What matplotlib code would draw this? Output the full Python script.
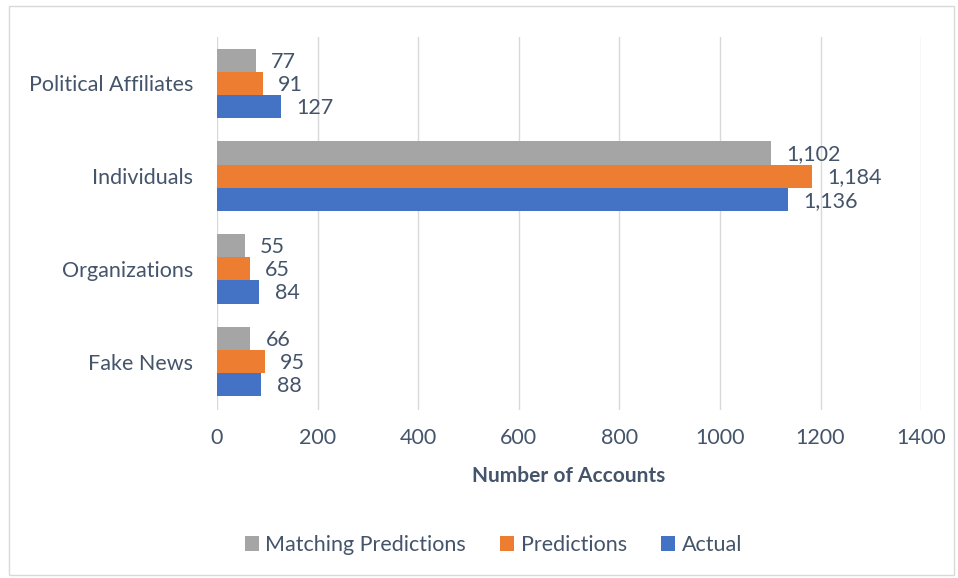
import numpy as np
import matplotlib
matplotlib.use("Agg")
import matplotlib.pyplot as plt
from matplotlib.patches import Rectangle

categories = ["Fake News", "Organizations", "Individuals", "Political Affiliates"]
actual = [88, 84, 1136, 127]
predictions = [95, 65, 1184, 91]
matching = [66, 55, 1102, 77]

TEXT = "#44546A"
plt.rcParams["font.family"] = ["Lato", "DejaVu Sans"]

fig = plt.figure(figsize=(9.58, 5.78), dpi=100)
ax = fig.add_axes([0.2265, 0.291, 0.735, 0.645])

y = np.arange(len(categories))
h = 0.25
series = [
    ("Actual", actual, "#4472C4", -h),
    ("Predictions", predictions, "#ED7D31", 0),
    ("Matching Predictions", matching, "#A5A5A5", h),
]
handles = {}
for name, vals, col, off in series:
    bars = ax.barh(y + off, vals, height=h, color=col, zorder=3, label=name)
    handles[name] = bars
    for b, v in zip(bars, vals):
        ax.annotate(f"{v:,}", (b.get_width(), b.get_y() + b.get_height() / 2),
                    xytext=(11, -1), textcoords="offset points", va="center",
                    ha="left", fontsize=15.5, color=TEXT)

ax.set_xlim(0, 1400)
ax.set_ylim(-0.52, 3.5)
ax.set_xticks(range(0, 1401, 200))
ax.set_yticks(y)
ax.set_yticklabels(categories)
ax.tick_params(axis="both", length=0, labelsize=15.5, labelcolor=TEXT)
ax.tick_params(axis="y", pad=17)
ax.tick_params(axis="x", pad=13)
ax.grid(axis="x", color="#D9D9D9", linewidth=1, zorder=0)
for s in ax.spines.values():
    s.set_visible(False)
ax.set_xlabel("Number of Accounts", fontsize=15, fontweight="bold", color=TEXT, labelpad=13)

order = ["Matching Predictions", "Predictions", "Actual"]
fig.legend([handles[n] for n in order], order, loc="center", bbox_to_anchor=(0.515, 0.057),
           ncol=3, frameon=False, fontsize=15.5, labelcolor=TEXT, handlelength=0.65,
           handleheight=0.65, columnspacing=1.6, handletextpad=0.3)

fig.patches.append(Rectangle((0.009, 0.005), 0.987, 0.985, transform=fig.transFigure,
                             fill=False, edgecolor="#D9D9D9", linewidth=1))

fig.savefig("out.png", dpi=100)
